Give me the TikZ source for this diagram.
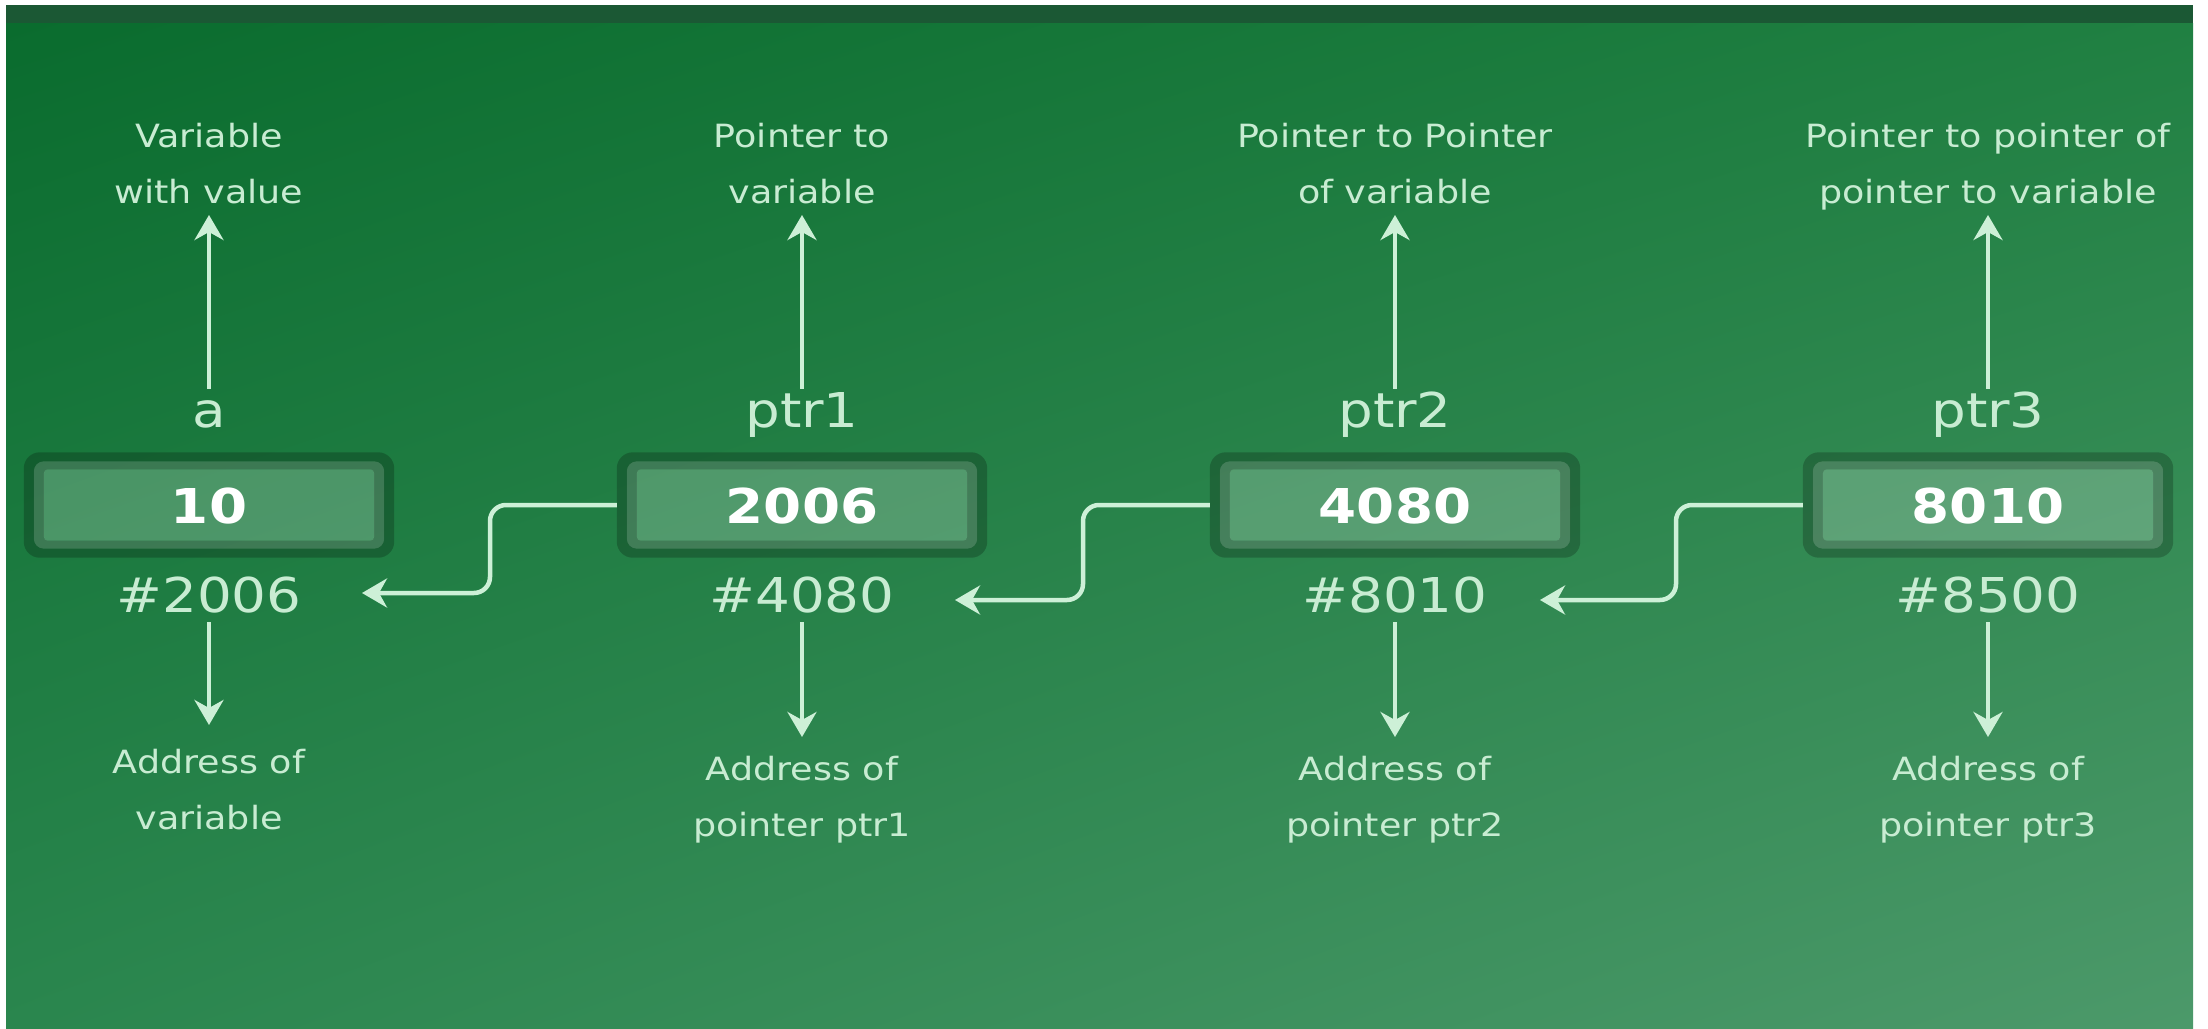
\documentclass[tikz,border=0pt]{standalone}
\usepackage{fontspec}
\setmainfont{DejaVu Sans}[FakeStretch=1.14]
\usetikzlibrary{arrows.meta,shadings}
\definecolor{bgA}{RGB}{10,108,46}
\definecolor{bgB}{RGB}{32,128,66}
\definecolor{bgC}{RGB}{42,134,78}
\definecolor{bgD}{RGB}{76,153,106}
\definecolor{band}{RGB}{27,88,52}
\definecolor{txt}{RGB}{200,236,210}
\definecolor{arrowc}{RGB}{205,240,215}
\begin{document}
\begin{tikzpicture}[x=1pt,y=-1pt,
  lbl/.style={text=txt, inner sep=0pt, align=center, anchor=north,
              font=\fontsize{32}{56}\selectfont},
  big/.style={text=txt, inner sep=0pt, anchor=base, text height=38pt, text depth=10pt,
              font=\fontsize{48}{56}\selectfont},
  val/.style={text=white, inner sep=0pt, anchor=base,
              font=\bfseries\fontsize{48}{56}\selectfont},
  slot/.style={minimum width=370pt, minimum height=105pt, inner sep=0pt},
  arr/.style={draw=arrowc, line width=4.5pt,
              -{Stealth[length=25pt,width=29pt,inset=8pt]}},
  link/.style={arr, rounded corners=16pt}]
\useasboundingbox (0,0) rectangle (2208,1028);
\fill[white] (0,0) rectangle (2208,1028);
% background panel
\shade[upper left=bgA, upper right=bgB, lower left=bgC, lower right=bgD]
  (6,23) rectangle (2193,1028);
\fill[band] (6,5) rectangle (2193,23);

% memory cells
\foreach \i/\cx/\v/\nm/\ad in {1/209/10/a/\#2006, 2/802/2006/ptr1/\#4080,
                                3/1395/4080/ptr2/\#8010, 4/1988/8010/ptr3/\#8500}{
  \node[slot] (box\i) at (\cx,505) {};
  \fill[black, fill opacity=.22, even odd rule]
    (box\i.north west) [rounded corners=16pt] rectangle (box\i.south east)
    ([shift={(10,9)}]box\i.north west) [rounded corners=10pt]
      rectangle ([shift={(-10,-9)}]box\i.south east);
  \fill[black, fill opacity=.22, even odd rule]
    ([shift={(10,9)}]box\i.north west) [rounded corners=10pt]
      rectangle ([shift={(-10,-9)}]box\i.south east)
    ([shift={(20,17)}]box\i.north west) [rounded corners=4pt]
      rectangle ([shift={(-20,-17)}]box\i.south east);
  \fill[white, fill opacity=.17, even odd rule]
    ([shift={(10,9)}]box\i.north west) [rounded corners=10pt]
      rectangle ([shift={(-10,-9)}]box\i.south east)
    ([shift={(20,17)}]box\i.north west) [rounded corners=4pt]
      rectangle ([shift={(-20,-17)}]box\i.south east);
  \fill[white, fill opacity=.21, rounded corners=4pt]
    ([shift={(20,17)}]box\i.north west) rectangle ([shift={(-20,-17)}]box\i.south east);
  \node[val] (v\i) at (\cx,523) {\v};
  \node[big] (n\i) at (\cx,427) {\nm};
  \node[big] (ad\i) at (\cx,612) {\ad};
}

% descriptions above
\node[lbl] (top1) at (209,123) {Variable\\with value};
\node[lbl] (top2) at (802,123) {Pointer to\\variable};
\node[lbl] (top3) at (1395,123) {Pointer to Pointer\\of variable};
\node[lbl] (top4) at (1988,123) {Pointer to pointer of\\pointer to variable};

% descriptions below
\node[lbl] (bot1) at (209,749) {Address of\\variable};
\node[lbl] (bot2) at (802,756) {Address of\\pointer ptr1};
\node[lbl] (bot3) at (1395,756) {Address of\\pointer ptr2};
\node[lbl] (bot4) at (1988,756) {Address of\\pointer ptr3};

% vertical arrows
\foreach \i in {1,2,3,4}{
  \draw[arr] (n\i.north) -- ([yshift=-92pt]top\i.north);
}
\draw[arr, shorten >=24pt] (ad1.south) -- (bot1.north);
\foreach \i in {2,3,4}{
  \draw[arr, shorten >=19pt] (ad\i.south) -- (bot\i.north);
}

% pointer links
\coordinate (k1) at (490,593);  \coordinate (t1) at (362,593);
\coordinate (k2) at (1083,600); \coordinate (t2) at (955,600);
\coordinate (k3) at (1676,600); \coordinate (t3) at (1540,600);
\draw[link] (box2.west) -| (k1) -- (t1);
\draw[link] (box3.west) -| (k2) -- (t2);
\draw[link] (box4.west) -| (k3) -- (t3);
\end{tikzpicture}
\end{document}
